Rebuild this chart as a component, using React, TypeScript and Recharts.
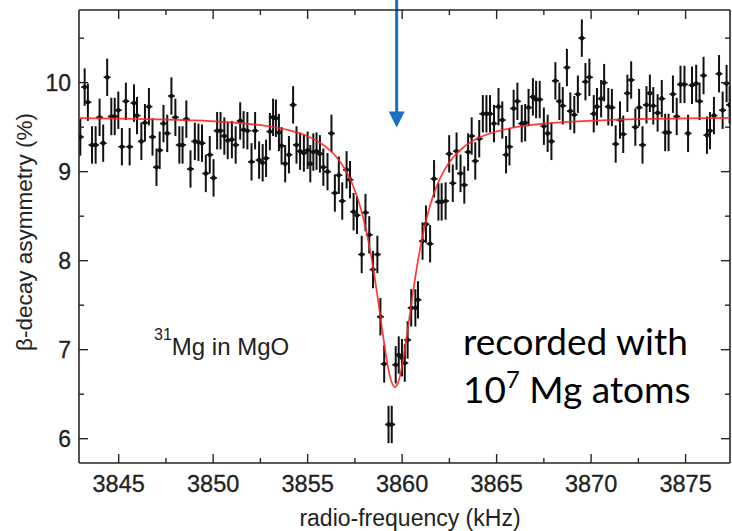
import React from 'react';
import { ScatterChart, Scatter, XAxis, YAxis, ErrorBar, ReferenceLine, ReferenceDot } from 'recharts';

// Measured resonance data: radio-frequency (kHz) vs beta-decay asymmetry (%)
const freqs = [
  3842.97, 3843.20, 3843.37, 3843.59, 3843.78, 3843.99, 3844.18, 3844.39, 3844.61, 3844.79,
  3844.98, 3845.17, 3845.38, 3845.58, 3845.81, 3845.97, 3846.20, 3846.39, 3846.60, 3846.79,
  3847.00, 3847.17, 3847.37, 3847.57, 3847.79, 3848.00, 3848.21, 3848.38, 3848.58, 3848.80,
  3849.03, 3849.22, 3849.41, 3849.61, 3849.82, 3850.02, 3850.21, 3850.39, 3850.59, 3850.77,
  3850.99, 3851.19, 3851.43, 3851.61, 3851.81, 3852.03, 3852.22, 3852.43, 3852.62, 3852.80,
  3853.00, 3853.17, 3853.32, 3853.48, 3853.62, 3853.81, 3854.01, 3854.23, 3854.41, 3854.60,
  3854.80, 3855.00, 3855.14, 3855.30, 3855.47, 3855.65, 3855.83, 3856.05, 3856.26, 3856.44,
  3856.65, 3856.83, 3857.06, 3857.24, 3857.43, 3857.61, 3857.86, 3858.06, 3858.26, 3858.46,
  3858.69, 3858.85, 3859.05, 3859.28, 3859.45, 3859.66, 3859.82, 3859.99, 3860.14, 3860.29,
  3860.48, 3860.70, 3860.84, 3861.08, 3861.26, 3861.48, 3861.69, 3861.92, 3862.09, 3862.30,
  3862.49, 3862.68, 3862.88, 3863.09, 3863.29, 3863.49, 3863.68, 3863.87, 3864.08, 3864.27,
  3864.46, 3864.65, 3864.86, 3865.10, 3865.30, 3865.50, 3865.68, 3865.90, 3866.10, 3866.33,
  3866.51, 3866.69, 3866.92, 3867.09, 3867.28, 3867.50, 3867.70, 3867.90, 3868.11, 3868.32,
  3868.50, 3868.72, 3868.90, 3869.11, 3869.30, 3869.51, 3869.70, 3869.91, 3870.14, 3870.31,
  3870.53, 3870.69, 3870.91, 3871.10, 3871.30, 3871.53, 3871.70, 3871.92, 3872.12, 3872.34,
  3872.54, 3872.72, 3872.93, 3873.11, 3873.29, 3873.52, 3873.74, 3873.92, 3874.10, 3874.33,
  3874.53, 3874.73, 3874.94, 3875.13, 3875.34, 3875.56, 3875.74, 3875.95, 3876.13, 3876.29,
  3876.50, 3876.77, 3876.96, 3877.17, 3877.33,
];

const asym = [
  9.39, 9.95, 9.78, 9.30, 9.30, 9.61, 9.32, 10.06, 9.62, 9.62,
  9.69, 9.28, 9.79, 9.28, 9.77, 9.63, 9.34, 9.55, 9.73, 9.39,
  9.05, 9.24, 9.54, 9.43, 9.85, 9.61, 9.30, 9.30, 9.59, 9.03,
  9.34, 9.33, 9.32, 8.98, 9.19, 8.93, 9.46, 9.46, 9.40, 9.35,
  9.36, 9.30, 9.57, 9.47, 9.46, 9.11, 9.46, 9.13, 9.10, 9.15,
  9.45, 9.61, 9.60, 9.44, 9.29, 9.09, 9.19, 9.75, 9.30, 9.23,
  9.21, 9.24, 9.09, 9.22, 9.23, 9.20, 9.05, 9.00, 9.43, 8.76,
  8.96, 8.67, 9.02, 8.91, 8.55, 8.51, 8.07, 8.54, 8.29, 7.90,
  8.07, 7.37, 6.84, 6.16, 6.16, 6.83, 6.94, 6.91, 6.85, 7.11,
  7.47, 7.47, 7.56, 8.22, 8.41, 8.19, 8.92, 8.66, 8.66, 8.67,
  9.20, 8.87, 9.23, 8.98, 8.85, 9.22, 9.40, 9.12, 9.37, 9.65,
  9.65, 9.65, 9.54, 9.73, 9.58, 9.19, 9.28, 9.71, 9.79, 9.54,
  9.55, 9.72, 9.84, 9.81, 9.81, 9.51, 9.43, 9.34, 10.02, 9.79,
  9.74, 10.17, 9.68, 9.64, 9.87, 10.50, 10.01, 10.06, 9.65, 9.73,
  9.82, 10.00, 9.73, 9.72, 9.31, 9.58, 9.42, 9.88, 10.03, 9.50,
  9.72, 9.30, 9.75, 9.88, 9.74, 9.66, 9.82, 9.44, 9.44, 9.87,
  9.62, 9.98, 9.98, 9.43, 9.97, 9.99, 9.79, 10.08, 9.41, 9.46,
  9.63, 10.10, 9.69, 9.99, 9.75,
];

const asymError = 0.21;

// Fitted resonance curve (red)
const fitFreqs = [
  3842.9, 3845, 3847, 3849, 3850.5, 3852, 3853, 3854, 3854.8, 3855.5,
  3856, 3856.5, 3857, 3857.4, 3857.8, 3858.1, 3858.4, 3858.7, 3858.9, 3859.1,
  3859.3, 3859.45, 3859.62, 3859.8, 3859.95, 3860.15, 3860.35, 3860.55, 3860.85, 3861.15,
  3861.45, 3861.85, 3862.25, 3862.75, 3863.25, 3864, 3865, 3866, 3867.5, 3869,
  3871, 3873, 3875, 3877.35,
];
const fitAsym = [
  9.602, 9.596, 9.588, 9.575, 9.559, 9.534, 9.507, 9.466, 9.414, 9.345,
  9.273, 9.170, 9.019, 8.844, 8.593, 8.336, 8.004, 7.594, 7.294, 6.999,
  6.754, 6.631, 6.580, 6.637, 6.764, 7.013, 7.309, 7.609, 8.016, 8.345,
  8.600, 8.849, 9.023, 9.173, 9.274, 9.374, 9.452, 9.499, 9.539, 9.563,
  9.581, 9.592, 9.598, 9.604,
];

const xMajorTicks = [3845, 3850, 3855, 3860, 3865, 3870, 3875];
const xMinorTicks = [3847.5, 3852.5, 3857.5, 3862.5, 3867.5, 3872.5];
const yMajorTicks = [6, 7, 8, 9, 10];
const yMinorTicks = [6.5, 7.5, 8.5, 9.5, 10.5];

const xDomain: [number, number] = [3842.9, 3877.35];
const yDomain: [number, number] = [5.727, 10.816];

const arrowFreq = 3859.71;
const arrowTop = 10.93;
const arrowTip = 9.495;

const points = freqs.map((f, i) => ({ x: f, y: asym[i], err: asymError }));
const fitData = fitFreqs.map((f, i) => ({ x: f, y: fitAsym[i] }));

const xTicks = [...xMajorTicks, ...xMinorTicks].sort((a, b) => a - b);
const yTicks = [...yMajorTicks, ...yMinorTicks].sort((a, b) => a - b);

const AXIS = '#262626';
const SANS = '"Liberation Sans", Arial, Helvetica, sans-serif';
const MAJOR = 9;
const MINOR = 5;

const isMajor = (list: number[], v: number) => list.some((t) => Math.abs(t - v) < 1e-6);

const BottomTick = (props: any) => {
  const { x, y, payload } = props;
  const major = isMajor(xMajorTicks, payload.value);
  return (
    <g>
      <line x1={x} x2={x} y1={y} y2={y - (major ? MAJOR : MINOR)} stroke={AXIS} strokeWidth={1.4} />
      {major && (
        <text x={x} y={y + 29} textAnchor="middle" fontSize={23.5} fontFamily={SANS} fill="#222" stroke="#222" strokeWidth={0.3}>
          {payload.value}
        </text>
      )}
    </g>
  );
};

const TopTick = (props: any) => {
  const { x, y, payload } = props;
  const major = isMajor(xMajorTicks, payload.value);
  return <line x1={x} x2={x} y1={y} y2={y + (major ? MAJOR : MINOR)} stroke={AXIS} strokeWidth={1.4} />;
};

const LeftTick = (props: any) => {
  const { x, y, payload } = props;
  const major = isMajor(yMajorTicks, payload.value);
  return (
    <g>
      <line x1={x} x2={x + (major ? MAJOR : MINOR)} y1={y} y2={y} stroke={AXIS} strokeWidth={1.4} />
      {major && (
        <text x={x - 8} y={y + 8} textAnchor="end" fontSize={23} fontFamily={SANS} fill="#222" stroke="#222" strokeWidth={0.3}>
          {payload.value}
        </text>
      )}
    </g>
  );
};

const RightTick = (props: any) => {
  const { x, y, payload } = props;
  const major = isMajor(yMajorTicks, payload.value);
  return <line x1={x} x2={x - (major ? MAJOR : MINOR)} y1={y} y2={y} stroke={AXIS} strokeWidth={1.4} />;
};

const PointShape = (props: any) => {
  const { cx, cy } = props;
  if (cx == null || cy == null) return <g />;
  return (
    <g>
      <line x1={cx - 3.5} x2={cx + 3.5} y1={cy} y2={cy} stroke="#111" strokeWidth={1.6} />
      <circle cx={cx} cy={cy} r={2.3} fill="#111" />
    </g>
  );
};

const NoShape = () => <g />;

const ArrowHead = (props: any) => {
  const { cx, cy } = props;
  if (cx == null || cy == null) return <g />;
  return <polygon points={`${cx},${cy} ${cx - 8},${cy - 16} ${cx + 8},${cy - 16}`} fill="#1b6ec2" />;
};

export default function App() {
  return (
    <div style={{ position: 'absolute', left: 0, top: 0, width: 732, height: 531, background: '#fff' }}>
      <ScatterChart width={732} height={531} margin={{ top: 9, right: 1, bottom: 0, left: 0 }}>
        <XAxis
          xAxisId="b"
          type="number"
          dataKey="x"
          domain={xDomain}
          allowDataOverflow
          ticks={xTicks}
          interval={0}
          height={68}
          tickSize={0}
          tickMargin={0}
          tickLine={false}
          tick={<BottomTick />}
          axisLine={{ stroke: AXIS, strokeWidth: 1.6 }}
        />
        <XAxis
          xAxisId="t"
          orientation="top"
          type="number"
          dataKey="x"
          domain={xDomain}
          allowDataOverflow
          ticks={xTicks}
          interval={0}
          height={1}
          tickSize={0}
          tickMargin={0}
          tickLine={false}
          tick={<TopTick />}
          axisLine={{ stroke: AXIS, strokeWidth: 1.6 }}
        />
        <YAxis
          yAxisId="l"
          type="number"
          dataKey="y"
          domain={yDomain}
          allowDataOverflow
          ticks={yTicks}
          interval={0}
          width={79}
          tickSize={0}
          tickMargin={0}
          tickLine={false}
          tick={<LeftTick />}
          axisLine={{ stroke: AXIS, strokeWidth: 1.6 }}
        />
        <YAxis
          yAxisId="r"
          orientation="right"
          type="number"
          dataKey="y"
          domain={yDomain}
          allowDataOverflow
          ticks={yTicks}
          interval={0}
          width={1}
          tickSize={0}
          tickMargin={0}
          tickLine={false}
          tick={<RightTick />}
          axisLine={{ stroke: AXIS, strokeWidth: 1.6 }}
        />
        <Scatter
          xAxisId="b"
          yAxisId="l"
          data={points}
          shape={<PointShape />}
          isAnimationActive={false}
        >
          <ErrorBar dataKey="err" direction="y" width={0} stroke="#111" strokeWidth={2} isAnimationActive={false} />
        </Scatter>
        <Scatter
          xAxisId="b"
          yAxisId="l"
          data={fitData}
          shape={<NoShape />}
          line={{ stroke: '#f22', strokeWidth: 1.7, strokeOpacity: 0.9 }}
          lineJointType="monotoneX"
          isAnimationActive={false}
        />
        <ReferenceLine
          xAxisId="b"
          yAxisId="l"
          segment={[{ x: arrowFreq, y: arrowTop }, { x: arrowFreq, y: arrowTip + 0.16 }]}
          stroke="#1b6ec2"
          strokeWidth={3}
          ifOverflow="visible"
        />
        <ReferenceDot
          xAxisId="b"
          yAxisId="l"
          x={arrowFreq}
          y={arrowTip}
          shape={<ArrowHead />}
          ifOverflow="visible"
        />
      </ScatterChart>
      <svg width={732} height={531} style={{ position: 'absolute', left: 0, top: 0, pointerEvents: 'none' }}>
        <text
          transform="translate(32,232) rotate(-90)"
          textAnchor="middle"
          fontSize={22.5}
          fontFamily={SANS}
          fill="#222"
        >
          β-decay asymmetry (%)
        </text>
        <text x={410} y={526} textAnchor="middle" fontSize={23} fontFamily={SANS} fill="#222">
          radio-frequency (kHz)
        </text>
        <text x={154} y={355} fontFamily={SANS} fill="#222">
          <tspan fontSize={16} dy={-15}>31</tspan>
          <tspan fontSize={24} dy={15}>Mg in MgO</tspan>
        </text>
        <text x={463} y={355} fontSize={37} fontFamily="Lato, 'Open Sans', sans-serif" fill="#000">
          recorded with
        </text>
        <text x={463} y={403} fontFamily="Lato, 'Open Sans', sans-serif" fill="#000">
          <tspan fontSize={37}>10</tspan>
          <tspan fontSize={24} dy={-15}>7</tspan>
          <tspan fontSize={37} dy={15}> Mg atoms</tspan>
        </text>
      </svg>
    </div>
  );
}
